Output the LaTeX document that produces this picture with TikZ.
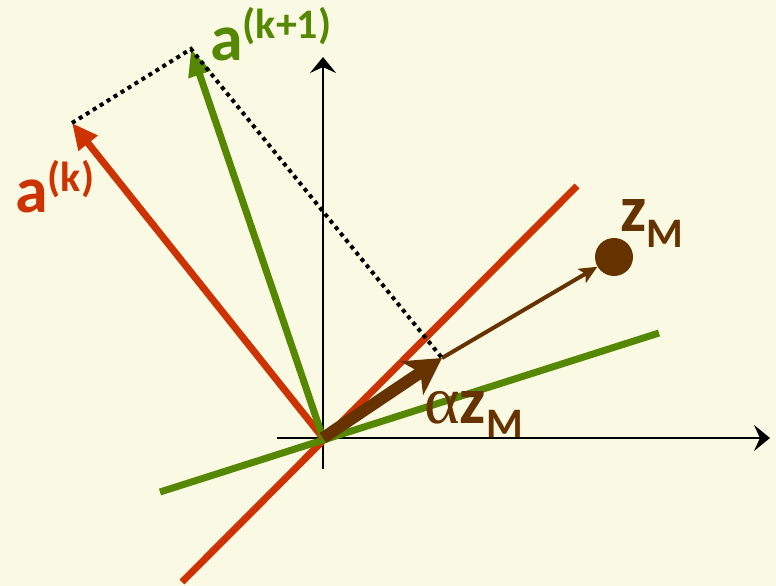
\documentclass[tikz,border=0pt]{standalone}
\usepackage{fontspec}
\setmainfont{Carlito}
\newfontfamily\greekf{Liberation Serif}
\usetikzlibrary{arrows.meta}
\definecolor{bg}{RGB}{250,250,228}
\definecolor{vred}{RGB}{204,51,0}
\definecolor{vgreen}{RGB}{85,136,0}
\definecolor{vbrown}{RGB}{102,51,0}
\tikzset{
  axis/.style={line width=2.8pt,-{Stealth[length=16pt,width=26pt,inset=6pt]}},
  redvec/.style={vred,line width=7pt,-{Triangle[length=26pt,width=23pt]}},
  greenvec/.style={vgreen,line width=7pt,-{Triangle[length=27pt,width=22pt]}},
  redline/.style={vred,line width=7pt},
  greenline/.style={vgreen,line width=7pt},
  bigbrown/.style={vbrown,line width=12pt,-{Stealth[length=36pt,width=40pt,inset=10pt]}},
  smallbrown/.style={vbrown,line width=4pt,-{Stealth[length=18pt,width=16pt,inset=4pt]}},
  dots/.style={line width=4pt,dash pattern=on 4pt off 4.2pt},
  lbl/.style={anchor=base west,inner sep=0pt,font=\bfseries},
}
\begin{document}
\begin{tikzpicture}[x=1pt,y=-1pt]
\fill[bg] (0,0) rectangle (776,586);
\useasboundingbox (0,0) rectangle (776,586);
% points
\coordinate (O) at (323,438);
\coordinate (ak) at (72,123);
\coordinate (ak1) at (191,49);
\coordinate (p) at (442,358);
\coordinate (xl) at (277,438);
\coordinate (xr) at (770,438);
\coordinate (yb) at (323,469);
\coordinate (yt) at (323,57);
\coordinate (r1) at (182,582);
\coordinate (r2) at (577,186);
\coordinate (g1) at (160,492);
\coordinate (g2) at (659,333);
\node[circle,fill=vbrown,minimum size=38pt,inner sep=0pt] (zmd) at (614,257) {};
% axes
\draw[axis] (xl) -- (xr);
\draw[axis] (yb) -- (yt);
% lines
\draw[redline] (r1) -- (r2);
\draw[greenline] (g1) -- (g2);
% vectors
\draw[redvec] (O) -- (ak);
\draw[greenvec] (O) -- (ak1);
\draw[smallbrown] (p) -- (zmd);
\draw[bigbrown,line cap=butt] (O) -- (p);
% dotted
\draw[dots] (ak) -- (ak1) -- (p);
% labels
\node[lbl,text=vgreen] (lak1) at (210,60) {\fontsize{66}{66}\selectfont a\raisebox{21pt}{\fontsize{42}{42}\selectfont (k+1)}};
\node[lbl,text=vred] (lak) at (15,212) {\fontsize{66}{66}\selectfont a\raisebox{21pt}{\fontsize{42}{42}\selectfont (k)}};
\node[lbl,text=vbrown] (lzm) at (620,231) {\fontsize{66}{66}\selectfont z\raisebox{-16pt}{\fontsize{42}{42}\selectfont M}};
\node[lbl,text=vbrown] (lazm) at (424,423) {{\greekf\mdseries\fontsize{68}{68}\selectfont α}\fontsize{66}{66}\selectfont z\raisebox{-14pt}{\fontsize{42}{42}\selectfont M}};
\end{tikzpicture}
\end{document}
